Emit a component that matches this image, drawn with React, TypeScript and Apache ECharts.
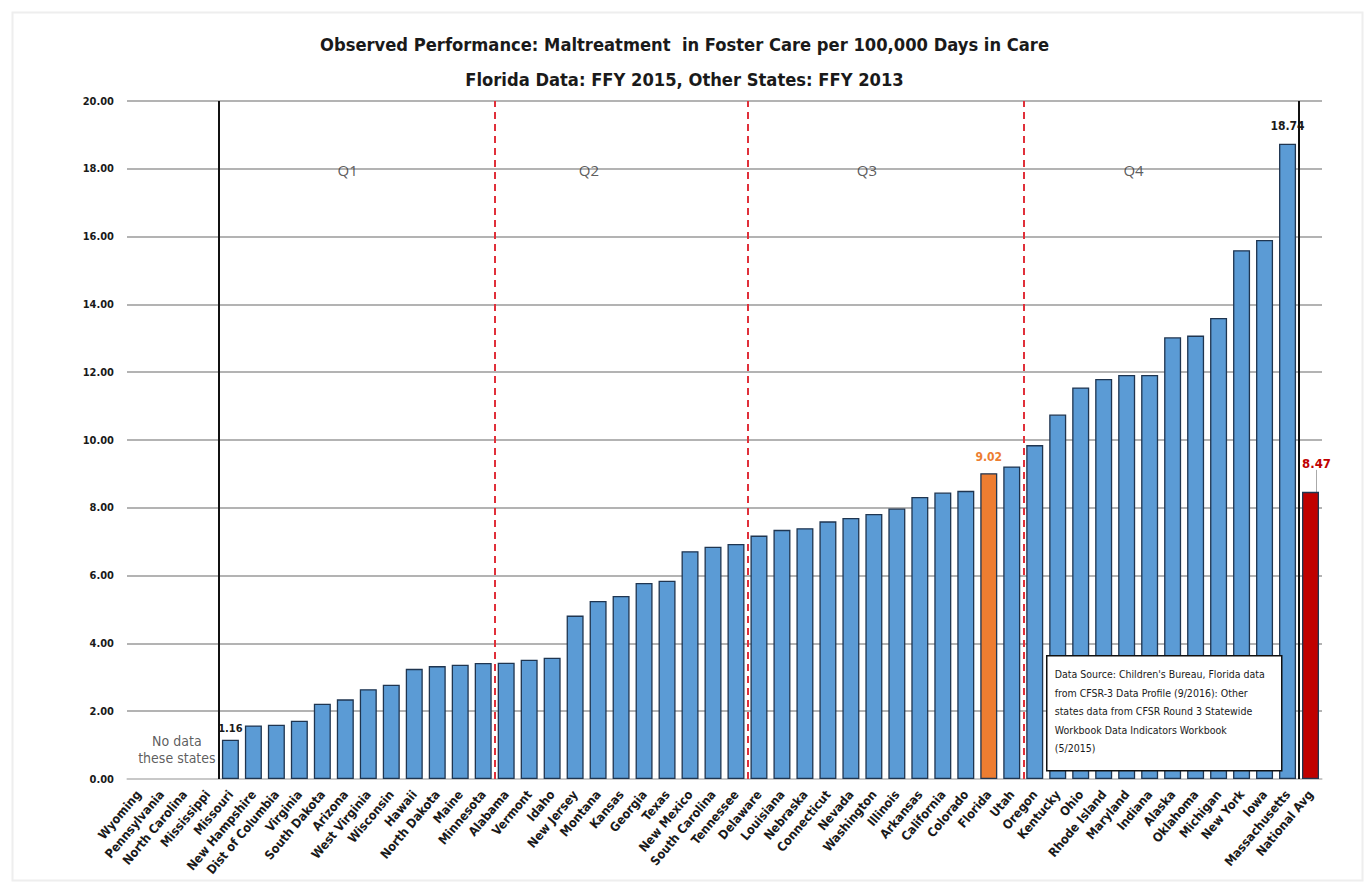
import React, { useEffect, useRef } from "react";
import * as echarts from "echarts";

const categories = [
  "Wyoming", "Pennsylvania", "North Carolina", "Mississippi", "Missouri", "New Hampshire",
  "Dist of Columbia", "Virginia", "South Dakota", "Arizona", "West Virginia", "Wisconsin",
  "Hawaii", "North Dakota", "Maine", "Minnesota", "Alabama", "Vermont", "Idaho", "New Jersey",
  "Montana", "Kansas", "Georgia", "Texas", "New Mexico", "South Carolina", "Tennessee",
  "Delaware", "Louisiana", "Nebraska", "Connecticut", "Nevada", "Washington", "Illinois",
  "Arkansas", "California", "Colorado", "Florida", "Utah", "Oregon", "Kentucky", "Ohio",
  "Rhode Island", "Maryland", "Indiana", "Alaska", "Oklahoma", "Michigan", "New York", "Iowa",
  "Massachusetts", "National Avg",
];

const values: (number | null)[] = [
  null, null, null, null, 1.16, 1.58, 1.6, 1.72, 2.22, 2.35, 2.65, 2.78, 3.25, 3.33, 3.37, 3.42,
  3.43, 3.52, 3.58, 4.82, 5.25, 5.4, 5.78, 5.85, 6.72, 6.85, 6.93, 7.18, 7.35, 7.4, 7.6, 7.7,
  7.82, 7.98, 8.32, 8.45, 8.5, 9.02, 9.22, 9.85, 10.75, 11.55, 11.8, 11.92, 11.92, 13.03, 13.08,
  13.6, 15.6, 15.9, 18.74, 8.47,
];

const labeledStates = ["Missouri", "Florida", "Massachusetts", "National Avg"];

const yTicks = { min: 0, max: 20, interval: 2 };

// divider lines between quartiles (positions between categories)
const solidDividers = [3.5, 50.5];
const dashedDividers = [15.5, 26.5, 38.5];

const quadrantLabels = [
  { name: "Q1", pos: [9.1, 17.95] },
  { name: "Q2", pos: [19.6, 17.95] },
  { name: "Q3", pos: [31.7, 17.95] },
  { name: "Q4", pos: [43.3, 17.95] },
];

const titleLines = [
  "Observed Performance: Maltreatment  in Foster Care per 100,000 Days in Care",
  "Florida Data: FFY 2015, Other States: FFY 2013",
];

const sourceNote =
  "Data Source: Children's Bureau, Florida data\nfrom CFSR-3 Data Profile (9/2016): Other\nstates data from CFSR Round 3 Statewide\nWorkbook Data Indicators Workbook\n(5/2015)";

const NARROW = "'Liberation Sans Narrow', 'DejaVu Sans Condensed', 'Arial Narrow', sans-serif";
const BLUE = "#5B9BD5";
const ORANGE = "#ED7D31";
const RED = "#C00000";

export default function App() {
  const ref = useRef<HTMLDivElement>(null);

  useEffect(() => {
    document.body.style.margin = "0";
    const chart = echarts.init(ref.current!, null, { renderer: "svg" });

    const barData = values.map((v, i) => {
      const name = categories[i];
      let color = BLUE;
      if (name === "Florida") color = ORANGE;
      if (name === "National Avg") color = RED;
      const item: any = { value: v === null ? "-" : v, itemStyle: { color } };
      if (labeledStates.includes(name)) {
        let lblColor = "#1a1a1a";
        let fs = 12;
        let dist = 9;
        if (name === "Florida") { lblColor = ORANGE; dist = 10; }
        if (name === "National Avg") { lblColor = RED; fs = 13; dist = 8; }
        if (name === "Massachusetts") { dist = 12; }
        if (name === "Missouri") { fs = 11; dist = 6; }
        item.label = {
          show: true,
          position: "top",
          distance: dist,
          formatter: (p: any) => Number(p.value).toFixed(2),
          color: lblColor,
          fontSize: fs,
          fontWeight: "bold",
          fontFamily: NARROW,
        };
        item.labelLine = {
          show: name === "National Avg",
          lineStyle: { color: "#aaaaaa", width: 1 },
        };
      }
      return item;
    });

    const markLines: any[] = [];
    solidDividers.forEach((x) => {
      markLines.push([
        { coord: [x, 0], lineStyle: { color: "#111", width: 2, type: "solid" } },
        { coord: [x, 20] },
      ]);
    });
    dashedDividers.forEach((x) => {
      markLines.push([
        { coord: [x, 0], lineStyle: { color: "#E0303A", width: 2, type: [7, 5] } },
        { coord: [x, 20] },
      ]);
    });

    chart.setOption({
      animation: false,
      backgroundColor: "#ffffff",
      title: {
        text: titleLines.join("\n"),
        left: "center",
        top: 22,
        textStyle: {
          fontFamily: NARROW,
          fontSize: 18.2,
          fontWeight: "bold",
          color: "#1a1a1a",
          lineHeight: 35,
        },
      },
      grid: { left: 127, right: 47, top: 101, bottom: 105 },
      xAxis: [
        {
          type: "category",
          data: categories,
          axisLine: { show: true, lineStyle: { color: "#cfcfcf", width: 1.5 } },
          axisTick: { show: false },
          axisLabel: {
            interval: 0,
            rotate: 50,
            margin: 13,
            color: "#1a1a1a",
            fontSize: 12.5,
            fontWeight: "bold",
            fontFamily: NARROW,
          },
        },
        {
          type: "value",
          min: -0.5,
          max: 51.5,
          show: false,
        },
      ],
      yAxis: {
        type: "value",
        min: yTicks.min,
        max: yTicks.max,
        interval: yTicks.interval,
        axisLine: { show: false },
        axisTick: { show: false },
        splitLine: { lineStyle: { color: "#9a9a9a", width: 1.5 } },
        axisLabel: {
          formatter: (v: number) => v.toFixed(2),
          margin: 13,
          color: "#1a1a1a",
          fontSize: 11,
          fontWeight: "bold",
          fontFamily: NARROW,
        },
      },
      series: [
        {
          type: "bar",
          data: barData,
          barWidth: "74%",
          itemStyle: { borderColor: "#1f3550", borderWidth: 1.3 },
          labelLayout: (p: any) =>
            categories[p.dataIndex] === "National Avg" ? { dx: 6, dy: -14 } : {},
        },
        {
          type: "scatter",
          xAxisIndex: 1,
          symbolSize: 0,
          silent: true,
          z: 5,
          data: quadrantLabels.map((q) => ({ name: q.name, value: q.pos })),
          label: {
            show: true,
            position: "inside",
            formatter: (p: any) => p.name,
            color: "#333",
            fontSize: 15,
            fontFamily: "'Open Sans', 'Liberation Sans', sans-serif",
          },
          markLine: {
            silent: true,
            symbol: "none",
            label: { show: false },
            data: markLines,
          },
        },
        {
          type: "scatter",
          xAxisIndex: 1,
          symbolSize: 0,
          silent: true,
          data: [{ name: "No data\nthese states", value: [1.67, 0.86] }],
          label: {
            show: true,
            position: "inside",
            formatter: (p: any) => p.name,
            color: "#333",
            fontSize: 14,
            lineHeight: 17,
            fontFamily: NARROW,
          },
        },
      ],
      graphic: [
        {
          type: "rect",
          left: 10,
          top: 10,
          shape: { width: 1350, height: 868 },
          style: { fill: "none", stroke: "#eeeeee", lineWidth: 2 },
          silent: true,
        },
        {
          type: "group",
          left: 1046,
          top: 655,
          z: 100,
          children: [
            {
              type: "rect",
              z: 100,
              shape: { x: 0, y: 0, width: 235, height: 115 },
              style: { fill: "#ffffff", stroke: "#111", lineWidth: 1.5 },
            },
            {
              type: "text",
              z: 101,
              x: 8,
              y: 9,
              style: {
                text: sourceNote,
                fill: "#1a1a1a",
                fontSize: 10.5,
                lineHeight: 18.5,
                fontFamily: NARROW,
              },
            },
          ],
        },
      ],
    });

    return () => chart.dispose();
  }, []);

  return <div ref={ref} style={{ width: 1369, height: 884 }} />;
}
